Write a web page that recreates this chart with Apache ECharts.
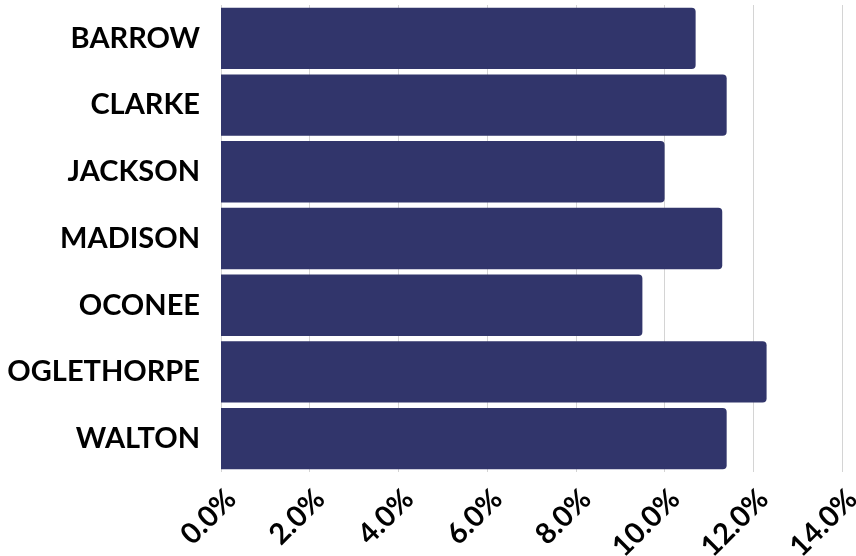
<!DOCTYPE html>
<html>
<head>
<meta charset="utf-8">
<script src="https://cdn.jsdelivr.net/npm/echarts@6/dist/echarts.min.js"></script>
<style>html,body{margin:0;padding:0;background:#fff}#c{width:856px;height:556px}</style>
</head>
<body>
<div id="c"></div>
<script>
const categories = ["BARROW","CLARKE","JACKSON","MADISON","OCONEE","OGLETHORPE","WALTON"];
const values = [10.7, 11.4, 10.0, 11.3, 9.5, 12.3, 11.4];
const tickMin = 0, tickMax = 14, tickStep = 2;

const chart = echarts.init(document.getElementById('c'), null, {renderer:'canvas'});
chart.setOption({
  animation: false,
  grid: {left: 221, right: 14, top: 5, bottom: 84, containLabel: false, outerBoundsMode: 'none'},
  xAxis: {
    type: 'value', min: tickMin, max: tickMax, interval: tickStep,
    axisLine: {show: false}, axisTick: {show: false},
    splitLine: {lineStyle: {color: '#d4d4d4', width: 1}},
    axisLabel: {
      rotate: 45, margin: 12, verticalAlign: 'top', hideOverlap: false,
      formatter: v => v.toFixed(1) + '%',
      fontFamily: 'Lato', fontWeight: 'bold', fontSize: 29, color: '#000'
    }
  },
  yAxis: {
    type: 'category', data: categories, inverse: true,
    axisLine: {show: false}, axisTick: {show: false},
    axisLabel: {margin: 21, fontFamily: 'Lato', fontWeight: 'bold', fontSize: 29, color: '#000'}
  },
  series: [{
    type: 'bar', data: values, barCategoryGap: '8%',
    itemStyle: {color: '#31356b', borderRadius: [0, 4, 4, 0]}
  }]
});
</script>
</body>
</html>
